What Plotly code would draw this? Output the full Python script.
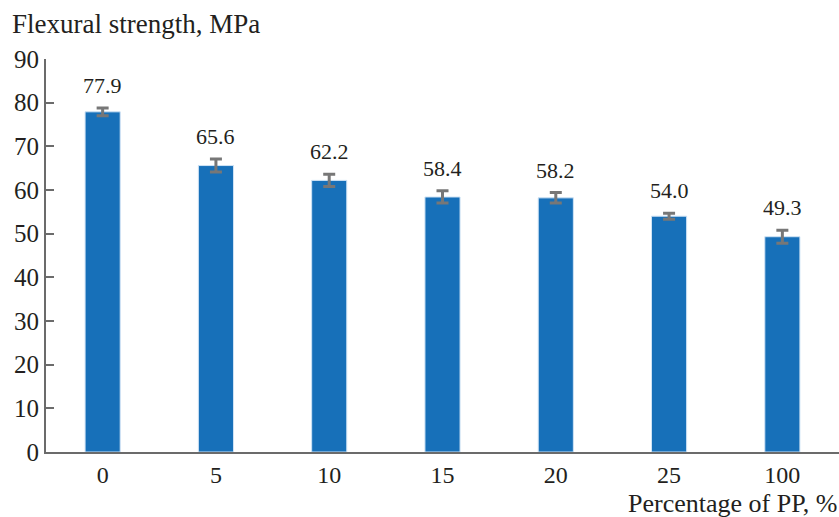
import plotly.graph_objects as go

categories = ["0", "5", "10", "15", "20", "25", "100"]
strength = [77.9, 65.6, 62.2, 58.4, 58.2, 54.0, 49.3]
errors = [0.9, 1.5, 1.4, 1.4, 1.2, 0.7, 1.5]
y_ticks = [0, 10, 20, 30, 40, 50, 60, 70, 80, 90]

FONT = "Liberation Serif"
TEXT = "#231f20"
AXIS = "#6b6b6b"

fig = go.Figure()
fig.add_trace(go.Bar(
    x=categories,
    y=strength,
    width=0.31,
    marker=dict(color="#1770b9", line=dict(color="#cfe3f5", width=1)),
    error_y=dict(type="data", array=errors, visible=True,
                 color="#777777", thickness=3, width=6),
))

# value labels above each error bar (category axis positions by index)
for i, (v, e) in enumerate(zip(strength, errors)):
    fig.add_annotation(x=i, y=v + e, text=f"{v:.1f}", showarrow=False,
                       yanchor="bottom", yshift=8,
                       font=dict(family=FONT, size=22, color=TEXT))

fig.add_annotation(xref="paper", yref="paper", x=-0.046, y=1.0,
                   xanchor="left", yanchor="bottom", yshift=18,
                   text="Flexural strength, MPa", showarrow=False,
                   font=dict(family=FONT, size=27, color=TEXT))
fig.add_annotation(xref="paper", yref="paper", x=1.0, y=0.0,
                   xanchor="right", yanchor="top", yshift=-33,
                   height=32, valign="middle",
                   text="Percentage of PP, %", showarrow=False,
                   font=dict(family=FONT, size=26, color=TEXT))

fig.update_layout(
    width=839, height=517,
    margin=dict(l=46, r=0, t=59, b=65),
    plot_bgcolor="white", paper_bgcolor="white",
    showlegend=False,
    font=dict(family=FONT, size=25, color=TEXT),
)
fig.update_xaxes(
    type="category", range=[-0.5, 6.5],
    showline=True, linecolor=AXIS, linewidth=2,
    ticks="", showgrid=False, zeroline=False,
    tickfont=dict(family=FONT, size=24, color=TEXT),
)
fig.update_yaxes(
    range=[0, 90], tickvals=y_ticks,
    showline=True, linecolor=AXIS, linewidth=2,
    ticks="inside", ticklen=8, tickcolor=AXIS, tickwidth=1.5,
    showgrid=False, zeroline=False,
    tickfont=dict(family=FONT, size=25, color=TEXT),
)

fig.write_html("out.html")
